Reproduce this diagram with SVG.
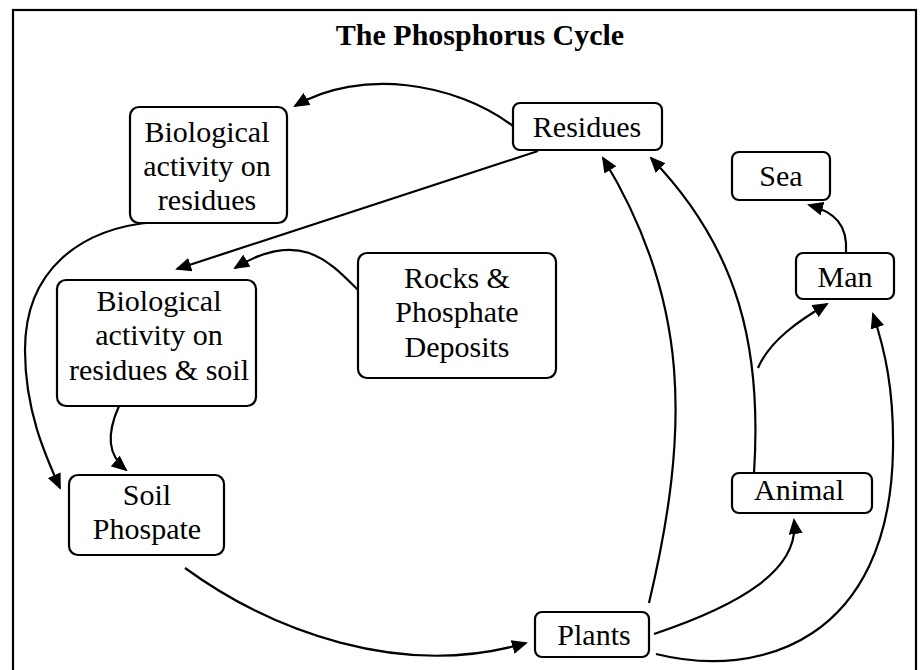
<svg xmlns="http://www.w3.org/2000/svg" width="920" height="670" viewBox="0 0 920 670">
<style>
.node rect{fill:#fff;stroke:#000;stroke-width:2.2}
.node text{font-family:"Liberation Serif","Times New Roman",serif;font-size:30px;fill:#000;text-anchor:middle}
.title{font-family:"Liberation Serif","Times New Roman",serif;font-size:30px;font-weight:bold;fill:#000;text-anchor:middle}
.edges path{fill:none;stroke:#000;stroke-width:2.2}
.arr{marker-end:url(#ah)}
</style>
<defs>
<marker id="ah" viewBox="0 0 16 14" refX="14" refY="7" markerWidth="16" markerHeight="14" markerUnits="userSpaceOnUse" orient="auto">
<path d="M0,0 L16,7 L0,14 z" fill="#000"/>
</marker>
</defs>
<rect width="920" height="670" fill="#fff"/>
<rect x="13" y="10" width="903" height="680" fill="none" stroke="#000" stroke-width="2.2"/>
<text class="title" x="480" y="45">The Phosphorus Cycle</text>

<g class="edges">
<path class="arr" d="M513,126 C455,82 360,68 295,106"/>
<path class="arr" d="M538,151 L177,269"/>
<path class="arr" d="M358,290 C330,262 300,228 235,268"/>
<path class="arr" d="M155,222 C80,228 25,270 25,350 C25,410 45,455 60,488"/>
<path class="arr" d="M119,406 C106,435 108,455 126,470"/>
<path class="arr" d="M185,568 C270,630 400,680 526,643"/>
<path class="arr" d="M649,603 C690,430 690,300 603,158"/>
<path class="arr" d="M754,473 C762,350 740,250 651,158"/>
<path class="arr" d="M758,368 C770,340 800,320 827,304"/>
<path class="arr" d="M846,253 C848,225 835,212 809,205"/>
<path class="arr" d="M654,634 C740,605 800,570 794,520"/>
<path class="arr" d="M656,654 C760,680 890,640 893,450 C894,390 885,350 873,314"/>
</g>

<g id="residues" class="node"><rect x="513" y="103" width="149" height="47" rx="7"/><text x="587" y="137">Residues</text></g>
<g id="sea" class="node"><rect x="732" y="152" width="98" height="48" rx="7"/><text x="781" y="186">Sea</text></g>
<g id="bio-residues" class="node"><rect x="130" y="107" width="157" height="116" rx="9"/><text x="207" y="142">Biological</text><text x="207" y="176">activity on</text><text x="207" y="210">residues</text></g>
<g id="bio-soil" class="node"><rect x="57" y="280" width="199" height="126" rx="9"/><text x="159" y="311">Biological</text><text x="159" y="345">activity on</text><text x="159" y="380">residues &amp; soil</text></g>
<g id="rocks" class="node"><rect x="358" y="253" width="198" height="125" rx="9"/><text x="457" y="288">Rocks &amp;</text><text x="457" y="322">Phosphate</text><text x="457" y="357">Deposits</text></g>
<g id="man" class="node"><rect x="796" y="253" width="98" height="46" rx="7"/><text x="845" y="287">Man</text></g>
<g id="animal" class="node"><rect x="732" y="473" width="140" height="40" rx="7"/><text x="799" y="500">Animal</text></g>
<g id="plants" class="node"><rect x="535" y="612" width="114" height="45" rx="7"/><text x="594" y="645">Plants</text></g>
<g id="soil-phospate" class="node"><rect x="69" y="475" width="155" height="80" rx="9"/><text x="147" y="505">Soil</text><text x="147" y="539">Phospate</text></g>
</svg>
